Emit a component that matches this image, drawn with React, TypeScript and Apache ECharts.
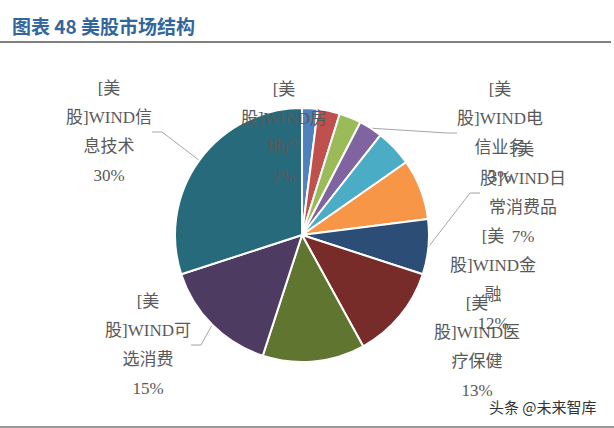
import React, { useEffect, useRef } from "react";
import * as echarts from "echarts";

// Data (clockwise from 12 o'clock)
const sectors = [
  "[美股]WIND房地产",
  "[美股]WIND公用事业",
  "[美股]WIND材料",
  "[美股]WIND电信业务",
  "[美股]WIND能源",
  "[美股]WIND工业",
  "[美股]WIND日常消费品",
  "[美股]WIND金融",
  "[美股]WIND医疗保健",
  "[美股]WIND可选消费",
  "[美股]WIND信息技术",
];
const shares = [2, 2.8, 2.8, 3, 4.7, 7.7, 7, 12, 13, 15, 30];
const showLabel = [true, false, false, true, false, false, true, true, true, true, true];
const showLine = [false, false, false, true, false, false, true, false, false, true, true];

const colors = [
  "#4F81BD", "#C0504D", "#9BBB59", "#8064A2", "#4BACC6", "#F79646",
  "#2C4D75", "#772C2A", "#5F7530", "#4D3B62", "#276A7C",
];

// label placement (center of label block), by slice index
const labelPos: Record<number, [number, number]> = {
  0: [284, 133],
  3: [500, 133],
  6: [523, 193],
  7: [493, 280],
  8: [477, 347],
  9: [148, 345],
  10: [109, 132],
};

const TITLE = "图表 48 美股市场结构";
const WATERMARK = "头条 @未来智库";

export default function App() {
  const ref = useRef<HTMLDivElement>(null);
  useEffect(() => {
    document.body.style.margin = "0";
    const chart = echarts.init(ref.current!, null, { renderer: "svg" });
    const data = sectors.map((name, i) => ({
      name,
      value: shares[i],
      itemStyle: { color: colors[i] },
      label: { show: showLabel[i] },
      labelLine: { show: showLine[i] },
    }));
    chart.setOption({
      animation: false,
      backgroundColor: "#ffffff",
      graphic: [
        {
          type: "text",
          left: 12,
          top: 16,
          style: {
            text: TITLE,
            fill: "#33669c",
            font: 'bold 19px "Noto Sans CJK SC", sans-serif',
          },
        },
        {
          type: "line",
          shape: { x1: 0, y1: 42, x2: 611, y2: 42 },
          style: { stroke: "#7f7f7f", lineWidth: 2 },
        },
        {
          type: "line",
          shape: { x1: 0, y1: 427, x2: 614, y2: 427 },
          style: { stroke: "#9a9a9a", lineWidth: 2 },
        },
        {
          type: "text",
          left: 489,
          top: 399,
          z: 100,
          style: {
            text: WATERMARK,
            fill: "#333333",
            font: '15px "Noto Sans CJK SC", sans-serif',
          },
        },
      ],
      series: [
        {
          type: "pie",
          center: [302, 235],
          radius: 127,
          startAngle: 90,
          clockwise: true,
          avoidLabelOverlap: false,
          itemStyle: { borderColor: "#ffffff", borderWidth: 2 },
          label: {
            position: "outside",
            color: "#595959",
            fontSize: 17,
            lineHeight: 29,
            fontFamily: '"Liberation Serif", "Noto Sans CJK SC", serif',
            align: "center",
            formatter: (p: any) => {
              const n: string = p.name;
              return [n.slice(0, 2), n.slice(2, 9), n.slice(9), Math.round(p.value) + "%"].join("\n");
            },
          },
          labelLine: {
            lineStyle: { color: "#a6a6a6", width: 1 },
            length: 10,
            length2: 10,
          },
          labelLayout: (params: any) => {
            const pos = labelPos[params.dataIndex];
            if (!pos) return {};
            return { x: pos[0], y: pos[1], align: "center", verticalAlign: "middle" };
          },
          data,
        },
      ],
    });
    return () => chart.dispose();
  }, []);
  return <div ref={ref} style={{ width: 614, height: 428 }} />;
}
